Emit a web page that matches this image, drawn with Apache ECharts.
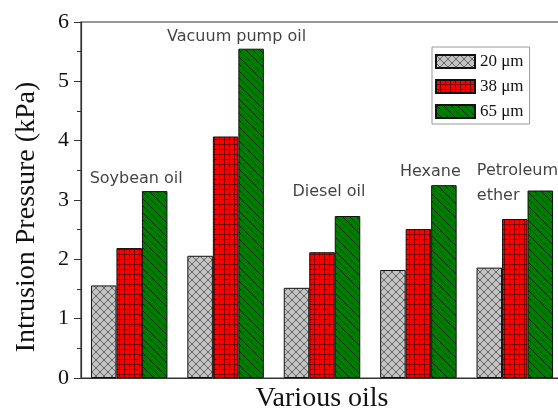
<!DOCTYPE html>
<html>
<head>
<meta charset="utf-8">
<script src="https://cdn.jsdelivr.net/npm/echarts@6/dist/echarts.min.js"></script>
<style>
  html, body { margin: 0; padding: 0; background: #fff; }
  #main { width: 558px; height: 410px; }
</style>
</head>
<body>
<div id="main"></div>
<script>
var categories = ['Soybean oil', 'Vacuum pump oil', 'Diesel oil', 'Hexane', 'Petroleum ether'];
var seriesNames = ['20 μm', '38 μm', '65 μm'];
var size20 = [1.56, 2.06, 1.52, 1.82, 1.86];
var size38 = [2.19, 4.07, 2.12, 2.51, 2.68];
var size65 = [3.15, 5.55, 2.73, 3.25, 3.16];
var oilLabels = ['Soybean oil', 'Vacuum pump oil', 'Diesel oil', 'Hexane', 'Petroleum\nether'];
var labelHeights = [3.35, 5.75, 3.13, 3.47, 3.28];

// hatch patterns drawn on small canvas tiles
function tile(w, h, bg, draw) {
  var c = document.createElement('canvas');
  c.width = w; c.height = h;
  var g = c.getContext('2d');
  g.fillStyle = bg;
  g.fillRect(0, 0, w, h);
  draw(g);
  return { image: c, repeat: 'repeat' };
}
var grayPat = tile(8, 8, '#c4c4c4', function (g) {
  g.strokeStyle = '#5a5a5a'; g.lineWidth = 0.9;
  g.beginPath();
  g.moveTo(0, 0); g.lineTo(8, 8);
  g.moveTo(8, 0); g.lineTo(0, 8);
  g.stroke();
});
var redPat = tile(5, 5, '#ff0000', function (g) {
  g.fillStyle = '#7a0000';
  g.fillRect(0, 4, 5, 1);
  g.fillRect(4, 0, 1, 5);
});
var greenPat = tile(7, 7, '#007d00', function (g) {
  g.strokeStyle = '#0c2a0c'; g.lineWidth = 1;
  g.beginPath();
  g.moveTo(-1, -1); g.lineTo(8, 8);
  g.moveTo(-1, 6); g.lineTo(1, 8);
  g.moveTo(6, -1); g.lineTo(8, 1);
  g.stroke();
});

var chart = echarts.init(document.getElementById('main'));

function bar(name, data, pat) {
  return {
    name: name,
    type: 'bar',
    data: data,
    barWidth: 25.5,
    barGap: '0%',
    itemStyle: { color: pat, borderColor: '#111', borderWidth: 1 },
    emphasis: { disabled: true }
  };
}

// oil names written above each group, placed on the axes
var labelSeries = {
  name: 'oil names',
  type: 'scatter',
  symbolSize: 1,
  itemStyle: { color: 'rgba(0,0,0,0)' },
  silent: true,
  z: 5,
  data: oilLabels.map(function (t, i) {
    return {
      value: [i, labelHeights[i]],
      label: {
        show: true,
        position: 'inside',
        formatter: t,
        fontFamily: 'DejaVu Sans',
        fontSize: 16,
        color: '#111',
        lineHeight: 25,
        align: i === 4 ? 'left' : 'center',
        offset: [[7, 11, 7, 12, -38][i], 0]
      }
    };
  })
};

chart.setOption({
  animation: false,
  grid: {
    left: 81, right: -5, top: 22, bottom: 32,
    outerBoundsMode: 'none',
    containLabel: false,
    show: true, borderColor: '#333', borderWidth: 1.2
  },
  legend: {
    orient: 'vertical',
    left: 432, top: 47,
    borderColor: '#999', borderWidth: 1,
    padding: [6, 6, 4, 3],
    itemWidth: 39, itemHeight: 13, itemGap: 8,
    icon: 'rect',
    textStyle: { fontFamily: 'Liberation Serif', fontSize: 17, color: '#111' },
    data: seriesNames
  },
  xAxis: {
    type: 'category',
    data: categories,
    name: 'Various oils',
    nameLocation: 'middle',
    nameGap: 7,
    nameTextStyle: { fontFamily: 'Liberation Serif', fontSize: 28, color: '#111' },
    axisLine: { lineStyle: { color: '#333', width: 1.2 } },
    axisTick: { show: false },
    axisLabel: { show: false }
  },
  yAxis: {
    type: 'value',
    min: 0, max: 6, interval: 1,
    name: 'Intrusion Pressure (kPa)',
    nameLocation: 'middle',
    nameGap: 40,
    nameTextStyle: { fontFamily: 'Liberation Serif', fontSize: 28, color: '#111', padding: [0, 34, 0, 0] },
    axisLine: { show: true, lineStyle: { color: '#333', width: 1.2 } },
    axisTick: { show: true, inside: false, length: 7, lineStyle: { color: '#333' } },
    minorTick: { show: true, splitNumber: 2, length: 4, lineStyle: { color: '#333' } },
    axisLabel: { fontFamily: 'Liberation Serif', fontSize: 22, color: '#111', margin: 12 },
    splitLine: { show: false }
  },
  series: [
    bar(seriesNames[0], size20, grayPat),
    bar(seriesNames[1], size38, redPat),
    bar(seriesNames[2], size65, greenPat),
    labelSeries
  ]
});
</script>
</body>
</html>
